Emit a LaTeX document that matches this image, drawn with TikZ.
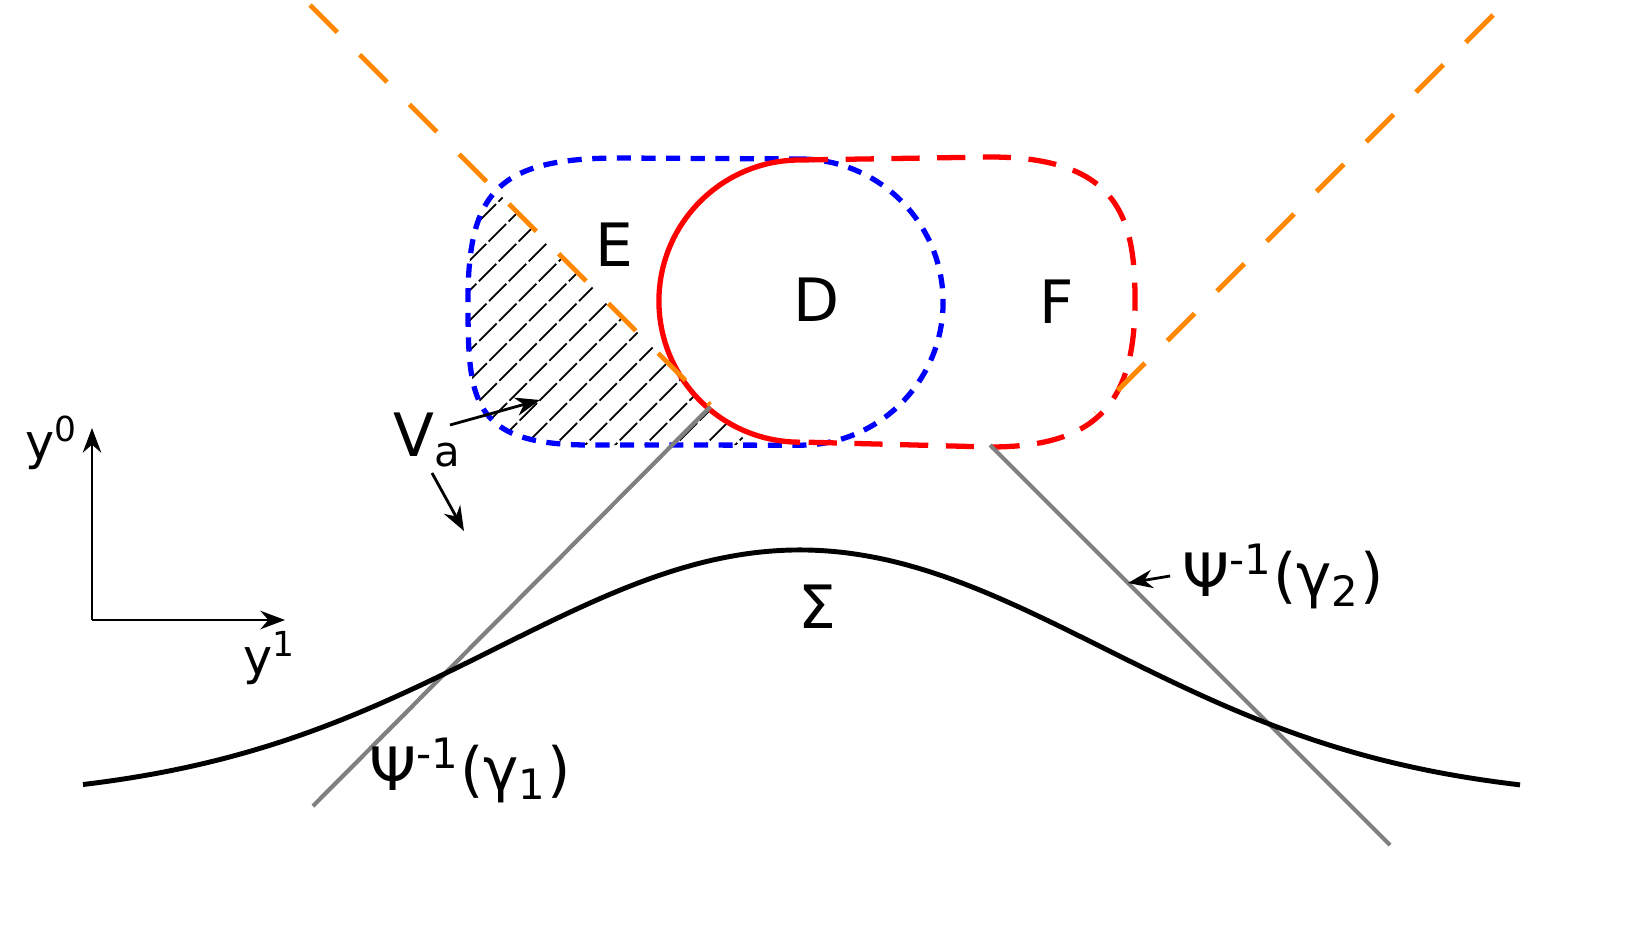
\documentclass[tikz,border=0pt]{standalone}
\usepackage{fontspec}
\setmainfont{DejaVu Sans}
\usetikzlibrary{arrows.meta}
\begin{document}
\begin{tikzpicture}[x=0.01cm,y=-0.01cm,
  lbl/.style={font=\fontsize{17}{20}\selectfont},
  slbl/.style={font=\fontsize{14}{17}\selectfont},
  orangeline/.style={draw={rgb,255:red,255;green,136;blue,0},line width=1.4pt,dash pattern=on 11pt off 9pt},
  grayline/.style={draw=gray,line width=1.2pt},
  arr/.style={-{Stealth[length=7pt]},line width=0.8pt}]
% hatching
\begin{scope}
\clip (800,159) arc[start angle=90,end angle=-90,radius=1.43cm] -- (590,445) .. controls (470,445) and (468,400) .. (468,300) .. controls (468,190) and (500,158) .. (620,158) -- cycle;
\clip (310,5) -- (760,455) -- (300,455) -- cycle;
\foreach \k in {640,670,...,1300} \draw[line width=0.5pt,dash pattern=on 7pt off 1pt] (\k-500,500) -- (\k-100,100);
\end{scope}
\fill[white] (800,301) circle[radius=1.39cm];
% blue E
\draw[blue,line width=1.5pt,dash pattern=on 4pt off 3pt] (800,159) arc[start angle=90,end angle=-90,radius=1.43cm] -- (590,445) .. controls (470,445) and (468,400) .. (468,300) .. controls (468,190) and (500,158) .. (620,158) -- cycle;
% red
\draw[red,line width=1.5pt] (800,160) arc[start angle=90,end angle=270,radius=1.41cm];
\draw[red,line width=1.5pt,dash pattern=on 8pt off 5pt] (800,160) -- (990,157) .. controls (1120,157) and (1135,220) .. (1135,300) .. controls (1135,400) and (1100,447) .. (990,447) -- (800,442);
% orange
\coordinate (o1) at (310,5); \coordinate (o2) at (710,405);
\coordinate (o3) at (1493,15); \coordinate (o4) at (1095,413);
\draw[orangeline] (o1) -- (o2);
\draw[orangeline] (o3) -- (o4);
% gray
\coordinate (g1) at (710,407); \coordinate (g2) at (313,806);
\coordinate (g3) at (990,445); \coordinate (g4) at (1390,845);
\draw[grayline] (g1) -- (g2);
\draw[grayline] (g3) -- (g4);
% Sigma
\draw[line width=1.4pt,domain=83:1520,samples=120,smooth] plot (\x,{800-250*exp(-((\x-800)/430)^2)});
% axes
\coordinate (O) at (92,620);
\coordinate (Y0) at (92,428);
\coordinate (Y1) at (285,620);
\draw[arr] (O) -- (Y0);
\draw[arr] (O) -- (Y1);
\node[slbl] (ly0) at (52,443) {y$^{\mathrm{0}}$};
\node[slbl] (ly1) at (270,658) {y$^{\mathrm{1}}$};
% labels
\node[lbl] (E) at (614,245) {E};
\node[lbl] (D) at (817,300) {D};
\node[lbl] (F) at (1057,302) {F};
\node[lbl] (S) at (817,607) {Σ};
\node[lbl] (Va) at (428,440) {V\textsubscript{a}};
\coordinate (va1) at (540,400);
\coordinate (va2) at (464,531);
\draw[arr] (450,425) -- (va1);
\draw[arr] (432,473) -- (va2);
\node[lbl] (p2) at (1283,576) {Ψ\textsuperscript{-1}(γ\textsubscript{2})};
\node[lbl] (p1) at (470,770) {Ψ\textsuperscript{-1}(γ\textsubscript{1})};
\coordinate (pa) at (1128,583);
\draw[arr] (p2.west) -- (pa);
\pgfresetboundingbox
\useasboundingbox (0,0) rectangle (1637,924);
\end{tikzpicture}
\end{document}
